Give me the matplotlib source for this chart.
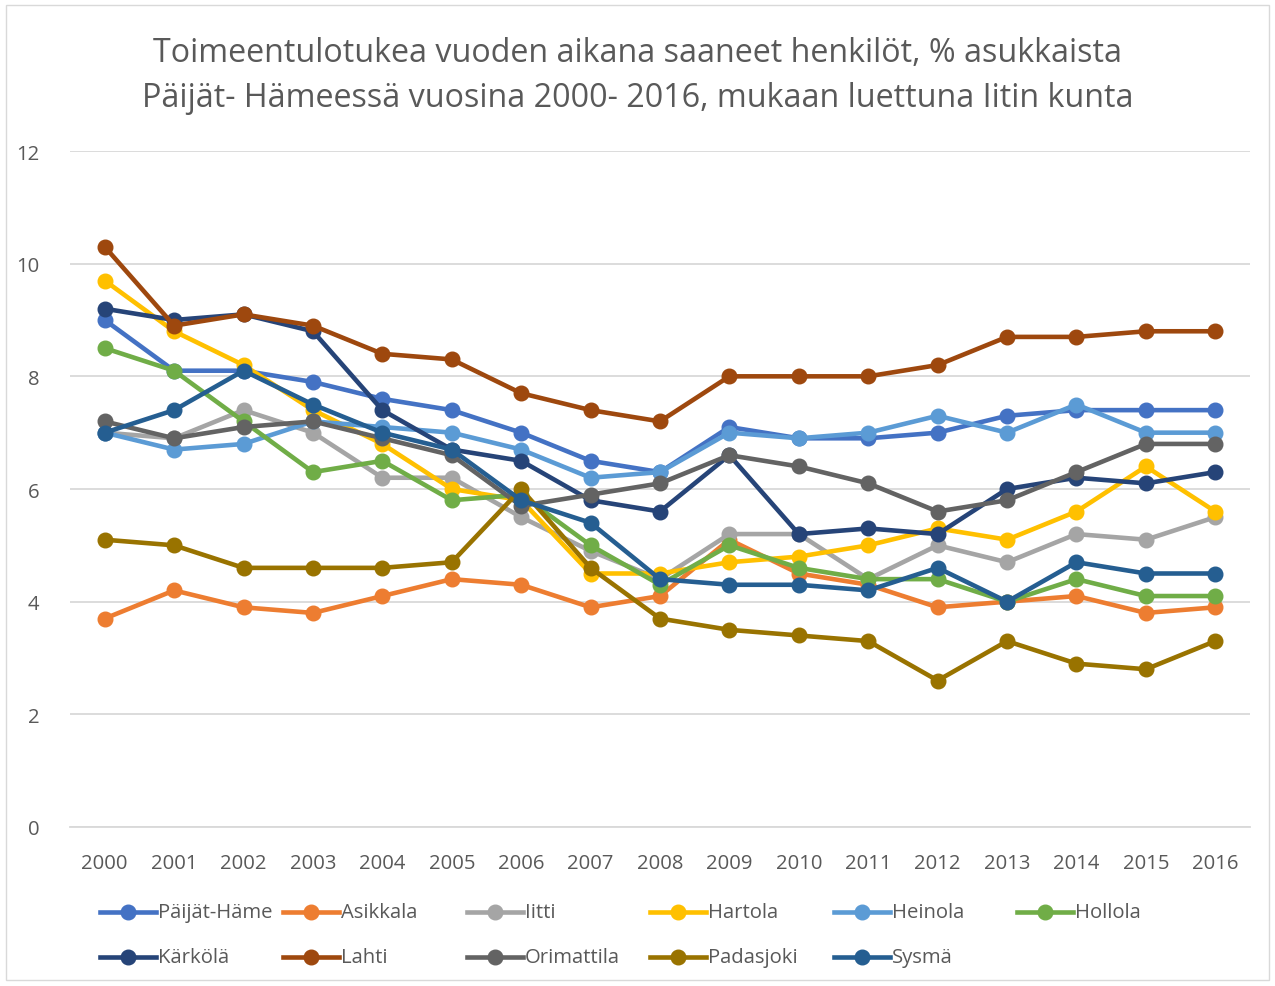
import matplotlib
matplotlib.use("Agg")
import matplotlib.pyplot as plt
from matplotlib.lines import Line2D
from matplotlib.patches import Rectangle

years = [str(y) for y in range(2000, 2017)]

paijat_hame = [9.0, 8.1, 8.1, 7.9, 7.6, 7.4, 7.0, 6.5, 6.3, 7.1, 6.9, 6.9, 7.0, 7.3, 7.4, 7.4, 7.4]
asikkala = [3.7, 4.2, 3.9, 3.8, 4.1, 4.4, 4.3, 3.9, 4.1, 5.1, 4.5, 4.3, 3.9, 4.0, 4.1, 3.8, 3.9]
iitti = [7.0, 6.9, 7.4, 7.0, 6.2, 6.2, 5.5, 4.9, 4.4, 5.2, 5.2, 4.4, 5.0, 4.7, 5.2, 5.1, 5.5]
hartola = [9.7, 8.8, 8.2, 7.4, 6.8, 6.0, 5.8, 4.5, 4.5, 4.7, 4.8, 5.0, 5.3, 5.1, 5.6, 6.4, 5.6]
heinola = [7.0, 6.7, 6.8, 7.2, 7.1, 7.0, 6.7, 6.2, 6.3, 7.0, 6.9, 7.0, 7.3, 7.0, 7.5, 7.0, 7.0]
hollola = [8.5, 8.1, 7.2, 6.3, 6.5, 5.8, 5.9, 5.0, 4.3, 5.0, 4.6, 4.4, 4.4, 4.0, 4.4, 4.1, 4.1]
karkola = [9.2, 9.0, 9.1, 8.8, 7.4, 6.7, 6.5, 5.8, 5.6, 6.6, 5.2, 5.3, 5.2, 6.0, 6.2, 6.1, 6.3]
lahti = [10.3, 8.9, 9.1, 8.9, 8.4, 8.3, 7.7, 7.4, 7.2, 8.0, 8.0, 8.0, 8.2, 8.7, 8.7, 8.8, 8.8]
orimattila = [7.2, 6.9, 7.1, 7.2, 6.9, 6.6, 5.7, 5.9, 6.1, 6.6, 6.4, 6.1, 5.6, 5.8, 6.3, 6.8, 6.8]
padasjoki = [5.1, 5.0, 4.6, 4.6, 4.6, 4.7, 6.0, 4.6, 3.7, 3.5, 3.4, 3.3, 2.6, 3.3, 2.9, 2.8, 3.3]
sysma = [7.0, 7.4, 8.1, 7.5, 7.0, 6.7, 5.8, 5.4, 4.4, 4.3, 4.3, 4.2, 4.6, 4.0, 4.7, 4.5, 4.5]

names = ["Päijät-Häme", "Asikkala", "Iitti", "Hartola", "Heinola", "Hollola",
         "Kärkölä", "Lahti", "Orimattila", "Padasjoki", "Sysmä"]
series = [paijat_hame, asikkala, iitti, hartola, heinola, hollola,
          karkola, lahti, orimattila, padasjoki, sysma]
colors = ["#4472C4", "#ED7D31", "#A5A5A5", "#FFC000", "#5B9BD5", "#70AD47",
          "#264478", "#9E480E", "#636363", "#997300", "#255E91"]

title = ("Toimeentulotukea vuoden aikana saaneet henkilöt, % asukkaista\n"
         "Päijät- Hämeessä vuosina 2000- 2016, mukaan luettuna Iitin kunta")

plt.rcParams["font.family"] = ["Open Sans", "DejaVu Sans"]
textcol = "#595959"
gridcol = "#D9D9D9"

fig = plt.figure(figsize=(12.75, 9.87), dpi=100)
ax = fig.add_axes([70/1275, 1-828/987, 1180/1275, 676/987])

x = list(range(len(years)))
for vals, col in zip(series, colors):
    ax.plot(x, vals, color=col, lw=3.3, marker="o", ms=10.5, solid_joinstyle="round")

ax.set_xlim(-0.5, len(years) - 0.5)
ax.set_ylim(0, 12)
ax.set_yticks(range(0, 13, 2))
ax.set_xticks(x)
ax.set_xticklabels(years)
ax.grid(axis="y", color=gridcol, lw=1.3)
ax.set_axisbelow(True)
for s in ["top", "right", "left"]:
    ax.spines[s].set_visible(False)
ax.spines["bottom"].set_color(gridcol)
ax.spines["bottom"].set_linewidth(1.3)
ax.tick_params(length=0, labelsize=14.6, labelcolor=textcol)
ax.tick_params(axis="y", pad=22)
ax.tick_params(axis="x", pad=19)

fig.text(0.5, 1-76/987, title, ha="center", va="center", fontsize=23.2,
         color=textcol, linespacing=1.5)

# legend, drawn row by row
col_x = [100, 283, 467, 650, 834, 1017]
row_y = [913, 958]
for i, (name, col) in enumerate(zip(names, colors)):
    r, c = divmod(i, 6)
    x0 = col_x[c] / 1275
    x1 = (col_x[c] + 56) / 1275
    y = 1 - row_y[r] / 987
    fig.add_artist(Line2D([x0, (x0 + x1) / 2, x1], [y, y, y], transform=fig.transFigure,
                          color=col, lw=3.3, marker="o", ms=10.5, markevery=[1]))
    fig.text(x1 + 2/1275, y, name, ha="left", va="center", fontsize=14.6, color=textcol)

fig.add_artist(Rectangle((6/1275, 6/987), 1263/1275, 975/987, transform=fig.transFigure,
                         fill=False, edgecolor=gridcol, lw=1))

fig.savefig("out.png", dpi=100)
